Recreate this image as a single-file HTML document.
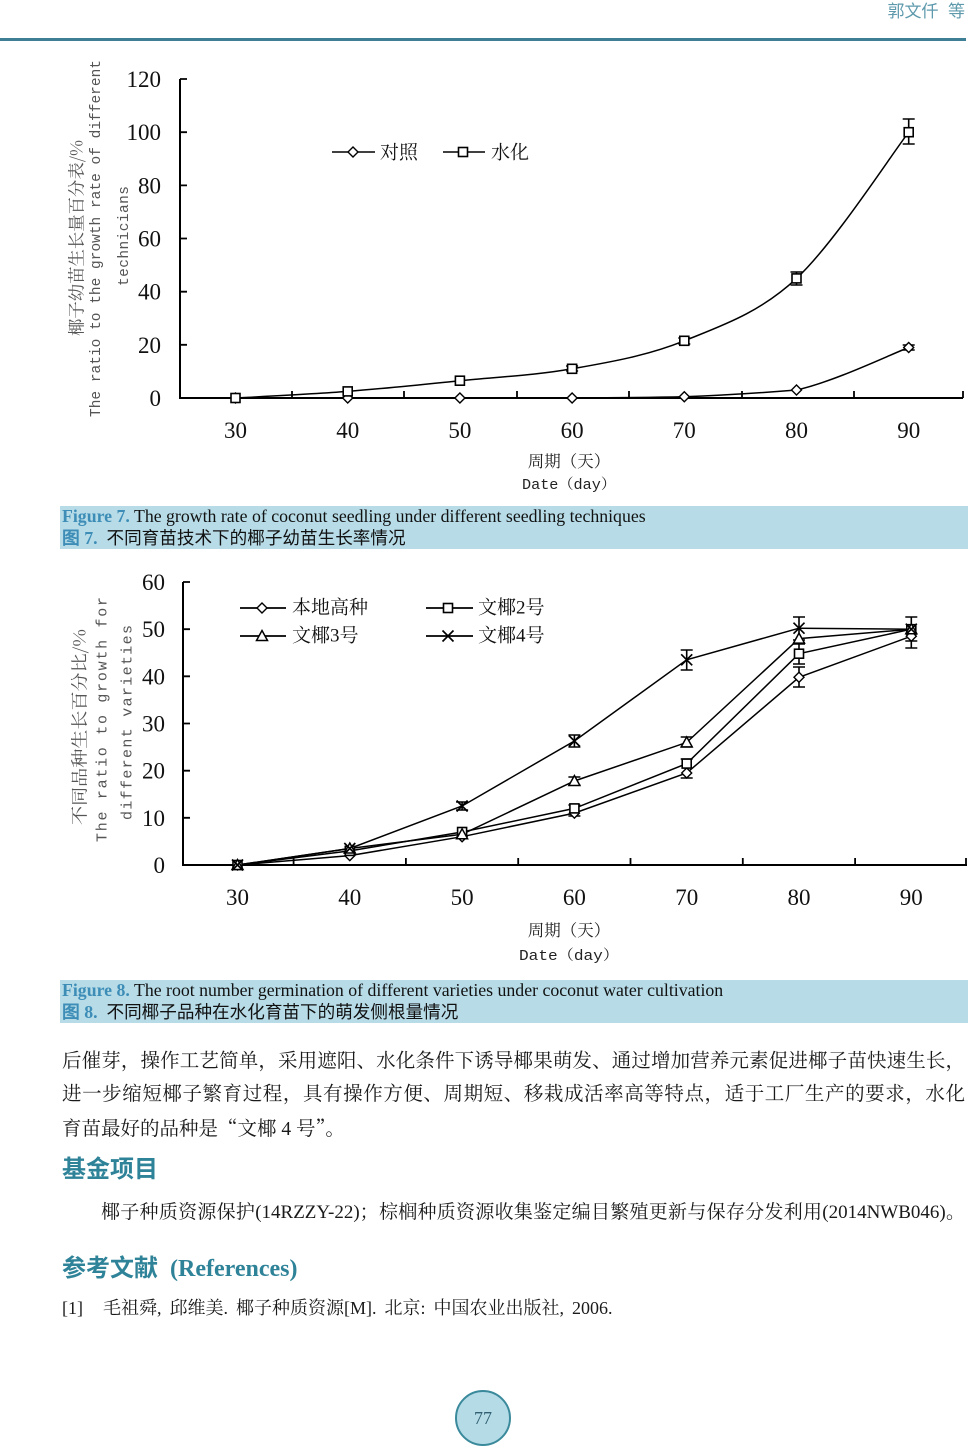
<!DOCTYPE html>
<html><head><meta charset="utf-8">
<style>
html,body{margin:0;padding:0;background:#fff;}
body{width:968px;height:1448px;position:relative;overflow:hidden;}
.abs{position:absolute;white-space:nowrap;}
.hdr{right:3px;top:2px;font:17px/20px "Liberation Sans","Noto Sans CJK SC",sans-serif;color:#5e9aac;}
.hline{position:absolute;left:0;top:38px;width:966px;height:3px;background:#3f7f95;}
.cap{position:absolute;left:60px;width:908px;height:43px;background:#b7dce8;}
.cap .l1{position:absolute;left:2px;top:0px;font:17.8px/20px "Liberation Serif",serif;color:#111;white-space:nowrap;}
.cap .l2{position:absolute;left:2px;top:21px;font:17.8px/21px "Liberation Serif",serif;color:#111;white-space:nowrap;}
.fl{color:#3d8db7;font-weight:bold;}
.cn{font-family:"Noto Sans CJK SC",sans-serif;font-size:17.6px;}
.bt{position:absolute;left:62px;width:903px;font:19.5px/24px "Liberation Serif","Noto Serif CJK SC",serif;color:#1a1a1a;text-align:justify;text-align-last:justify;white-space:nowrap;}
.h2{position:absolute;left:62px;font:bold 24px/30px "Liberation Serif","Noto Sans CJK SC",sans-serif;color:#2f8398;white-space:nowrap;}
.pn{position:absolute;left:455px;top:1390px;width:52px;height:52px;border-radius:50%;background:#b5dbe7;border:2px solid #3b8a9c;text-align:center;font:18px/52px "Liberation Serif",serif;color:#2f5f70;}
.q{font-family:"Noto Serif CJK SC",serif;}
</style></head>
<body>
<div class="abs hdr">郭文仟&nbsp;&nbsp;等</div>
<div class="hline"></div>

<svg class="abs" style="left:0;top:0" width="968" height="980" viewBox="0 0 968 980" xmlns="http://www.w3.org/2000/svg">
<defs>
<path id="dm" d="M0,-5 L5,0 L0,5 L-5,0Z" fill="#fff" stroke="#000" stroke-width="1.4"/>
<rect id="sq" x="-4.5" y="-4.5" width="9" height="9" fill="#fff" stroke="#000" stroke-width="1.6"/>
<path id="tr" d="M0,-5.5 L5.5,4.5 L-5.5,4.5Z" fill="#fff" stroke="#000" stroke-width="1.5"/>
<path id="xm" d="M-5.5,-5.5 L5.5,5.5 M-5.5,5.5 L5.5,-5.5" fill="none" stroke="#000" stroke-width="1.7"/>
</defs>

<!-- ===== Figure 7 ===== -->
<path d="M180,79 V398 H963" stroke="#000" stroke-width="2" fill="none"/>
<path d="M180,344.8H187M180,291.7H187M180,238.5H187M180,185.4H187M180,132.2H187M180,79H187" stroke="#000" stroke-width="1.8"/>
<path d="M292,398V391M404,398V391M517,398V391M629,398V391M742,398V391M854,398V391M963,398V391" stroke="#000" stroke-width="1.8"/>
<g font-family="Liberation Serif, serif" font-size="23" fill="#111" text-anchor="end">
<text x="161" y="87">120</text><text x="161" y="140.2">100</text><text x="161" y="193.4">80</text>
<text x="161" y="246.5">60</text><text x="161" y="299.7">40</text><text x="161" y="352.8">20</text><text x="161" y="406">0</text>
</g>
<g font-family="Liberation Serif, serif" font-size="23" fill="#111" text-anchor="middle">
<text x="235.5" y="438">30</text><text x="347.7" y="438">40</text><text x="459.9" y="438">50</text>
<text x="572.1" y="438">60</text><text x="684.3" y="438">70</text><text x="796.5" y="438">80</text><text x="908.7" y="438">90</text>
</g>
<text x="569" y="467" text-anchor="middle" font-family="Noto Serif CJK SC, serif" font-size="16.5" fill="#222">周期（天）</text>
<text x="569" y="489" text-anchor="middle" font-family="Liberation Mono, Noto Serif CJK SC, monospace" font-size="14.5" fill="#222" textLength="94" lengthAdjust="spacingAndGlyphs">Date（day）</text>
<g fill="#555" text-anchor="middle" dominant-baseline="central">
<text transform="translate(75,238) rotate(-90)" font-family="Noto Serif CJK SC, serif" font-size="17" textLength="196" lengthAdjust="spacingAndGlyphs">椰子幼苗生长量百分表/%</text>
<text transform="translate(97,238.5) rotate(-90)" font-family="Liberation Mono, monospace" font-size="14.5" textLength="357" lengthAdjust="spacing">The ratio to the growth rate of different</text>
<text transform="translate(125,236) rotate(-90)" font-family="Liberation Mono, monospace" font-size="14.5" textLength="100" lengthAdjust="spacing">technicians</text>
</g>
<!-- series -->
<path d="M235.5,398 C254.2,396.9 310.3,394.3 347.7,391.4 C385.1,388.5 422.5,384.5 459.9,380.7 C497.3,376.9 534.7,375.5 572.1,368.8 C609.5,362.2 646.9,355.9 684.3,340.8 C721.7,325.7 759.1,313.2 796.5,278.4 C833.9,243.6 890,156.6 908.7,132.2" fill="none" stroke="#000" stroke-width="1.5"/>
<path d="M235.5,398 L572.1,398 C609.5,397.8 646.9,397.5 684.3,396.7 C721.7,395.4 759.1,393 796.5,390 C833.9,381.8 890,354.6 908.7,347.5" fill="none" stroke="#000" stroke-width="1.5"/>
<path d="M908.7,119V144M902.7,119H914.7M902.7,144H914.7 M796.5,272V285M790.5,272H802.5M790.5,285H802.5 M684.3,338V344M678.3,338H690.3M678.3,344H690.3 M572.1,366V371M566.1,366H578.1M566.1,371H578.1 M908.7,345V350M902.7,345H914.7M902.7,350H914.7" stroke="#000" stroke-width="1.6" fill="none"/>
<use href="#dm" x="235.5" y="398"/><use href="#dm" x="347.7" y="398"/><use href="#dm" x="459.9" y="398"/><use href="#dm" x="572.1" y="398"/><use href="#dm" x="684.3" y="396.7"/><use href="#dm" x="796.5" y="390"/><use href="#dm" x="908.7" y="347.5"/>
<use href="#sq" x="235.5" y="398"/><use href="#sq" x="347.7" y="391.4"/><use href="#sq" x="459.9" y="380.7"/><use href="#sq" x="572.1" y="368.8"/><use href="#sq" x="684.3" y="340.8"/><use href="#sq" x="796.5" y="278.4"/><use href="#sq" x="908.7" y="132.2"/>
<!-- legend -->
<path d="M332,152H375M443,152H485" stroke="#000" stroke-width="1.6"/>
<use href="#dm" x="353" y="152"/><use href="#sq" x="463" y="152"/>
<g font-family="Noto Serif CJK SC, serif" font-size="19" fill="#111" dominant-baseline="central">
<text x="380" y="151">对照</text><text x="491" y="151">水化</text>
</g>

<!-- ===== Figure 8 ===== -->
<path d="M183,582 V865 H967" stroke="#000" stroke-width="2" fill="none"/>
<path d="M183,817.8H190M183,770.7H190M183,723.5H190M183,676.3H190M183,629.2H190M183,582H190" stroke="#000" stroke-width="1.8"/>
<path d="M293.6,865V858M405.9,865V858M518.2,865V858M630.5,865V858M742.8,865V858M855.1,865V858M966,865V858" stroke="#000" stroke-width="1.8"/>
<g font-family="Liberation Serif, serif" font-size="23" fill="#111" text-anchor="end">
<text x="165" y="590">60</text><text x="165" y="637.2">50</text><text x="165" y="684.3">40</text><text x="165" y="731.5">30</text>
<text x="165" y="778.7">20</text><text x="165" y="825.8">10</text><text x="165" y="873">0</text>
</g>
<g font-family="Liberation Serif, serif" font-size="23" fill="#111" text-anchor="middle">
<text x="237.5" y="905">30</text><text x="349.8" y="905">40</text><text x="462.1" y="905">50</text>
<text x="574.4" y="905">60</text><text x="686.7" y="905">70</text><text x="799" y="905">80</text><text x="911.3" y="905">90</text>
</g>
<text x="569" y="936" text-anchor="middle" font-family="Noto Serif CJK SC, serif" font-size="16.5" fill="#222">周期（天）</text>
<text x="569" y="960" text-anchor="middle" font-family="Liberation Mono, Noto Serif CJK SC, monospace" font-size="14.5" fill="#222" textLength="100" lengthAdjust="spacingAndGlyphs">Date（day）</text>
<g fill="#555" text-anchor="middle" dominant-baseline="central">
<text transform="translate(78,727) rotate(-90)" font-family="Noto Serif CJK SC, serif" font-size="17" textLength="196" lengthAdjust="spacingAndGlyphs">不同品种生长百分比/%</text>
<text transform="translate(103,719.5) rotate(-90)" font-family="Liberation Mono, monospace" font-size="15" textLength="245" lengthAdjust="spacing">The ratio to growth for</text>
<text transform="translate(128,722.5) rotate(-90)" font-family="Liberation Mono, monospace" font-size="15" textLength="195" lengthAdjust="spacing">different varieties</text>
</g>
<!-- series lines -->
<g fill="none" stroke="#000" stroke-width="1.5">
<polyline points="237.5,865 349.8,855.6 462.1,836.7 574.4,813.1 686.7,773 799,677.3 911.3,636.2"/>
<polyline points="237.5,865 349.8,850.9 462.1,832 574.4,808.4 686.7,763.6 799,653.7 911.3,629.2"/>
<polyline points="237.5,865 349.8,848.5 462.1,834.3 574.4,781 686.7,742.4 799,638.6 911.3,629.2"/>
<polyline points="237.5,865 349.8,848.5 462.1,806 574.4,741 686.7,659.8 799,628.2 911.3,629.2"/>
</g>
<path d="M911.3,617V641M905.3,617H917.3M905.3,641H917.3 M911.3,625V648M905.3,648H917.3
M799,617V640M793,617H805M793,640H805 M799,634V643M793,643H805 M799,644V664M793,644H805M793,664H805 M799,667V687M793,667H805M793,687H805
M686.7,650V670M680.7,650H692.7M680.7,670H692.7 M686.7,737V747M680.7,737H692.7M680.7,747H692.7 M686.7,759V778M680.7,759H692.7M680.7,778H692.7
M574.4,735V747M568.4,735H580.4M568.4,747H580.4 M574.4,777V785M568.4,777H580.4M568.4,785H580.4 M574.4,805V816M568.4,805H580.4M568.4,816H580.4
M462.1,802V810M456.1,802H468.1M456.1,810H468.1" stroke="#000" stroke-width="1.6" fill="none"/>
<use href="#dm" x="237.5" y="865"/><use href="#dm" x="349.8" y="855.6"/><use href="#dm" x="462.1" y="836.7"/><use href="#dm" x="574.4" y="813.1"/><use href="#dm" x="686.7" y="773"/><use href="#dm" x="799" y="677.3"/><use href="#dm" x="911.3" y="636.2"/>
<use href="#sq" x="237.5" y="865"/><use href="#sq" x="349.8" y="850.9"/><use href="#sq" x="462.1" y="832"/><use href="#sq" x="574.4" y="808.4"/><use href="#sq" x="686.7" y="763.6"/><use href="#sq" x="799" y="653.7"/><use href="#sq" x="911.3" y="629.2"/>
<use href="#tr" x="237.5" y="865"/><use href="#tr" x="349.8" y="848.5"/><use href="#tr" x="462.1" y="834.3"/><use href="#tr" x="574.4" y="781"/><use href="#tr" x="686.7" y="742.4"/><use href="#tr" x="799" y="638.6"/><use href="#tr" x="911.3" y="629.2"/>
<use href="#xm" x="237.5" y="865"/><use href="#xm" x="349.8" y="848.5"/><use href="#xm" x="462.1" y="806"/><use href="#xm" x="574.4" y="741"/><use href="#xm" x="686.7" y="659.8"/><use href="#xm" x="799" y="628.2"/><use href="#xm" x="911.3" y="629.2"/>
<!-- legend -->
<path d="M240,608H286M426,608H473M240,636H286M426,636H473" stroke="#000" stroke-width="1.8"/>
<use href="#dm" x="262" y="608"/><use href="#sq" x="448" y="608"/><use href="#tr" x="262" y="636"/><use href="#xm" x="448" y="636"/>
<g font-family="Liberation Serif, Noto Serif CJK SC, serif" font-size="19" fill="#111" dominant-baseline="central">
<text x="292" y="608">本地高种</text><text x="478" y="608">文椰2号</text>
<text x="292" y="636">文椰3号</text><text x="478" y="636">文椰4号</text>
</g>
</svg>

<div class="cap" style="top:506px">
<div class="l1"><span class="fl">Figure 7.</span> The growth rate of coconut seedling under different seedling techniques</div>
<div class="l2"><span class="fl">图 7.</span>&nbsp; <span class="cn">不同育苗技术下的椰子幼苗生长率情况</span></div>
</div>
<div class="cap" style="top:980px">
<div class="l1"><span class="fl">Figure 8.</span> The root number germination of different varieties under coconut water cultivation</div>
<div class="l2"><span class="fl">图 8.</span>&nbsp; <span class="cn">不同椰子品种在水化育苗下的萌发侧根量情况</span></div>
</div>

<div class="bt" style="top:1050px">后催芽，操作工艺简单，采用遮阳、水化条件下诱导椰果萌发、通过增加营养元素促进椰子苗快速生长，</div>
<div class="bt" style="top:1083px">进一步缩短椰子繁育过程，具有操作方便、周期短、移栽成活率高等特点，适于工厂生产的要求，水化</div>
<div class="bt" style="top:1115px;text-align:left;text-align-last:left;">育苗最好的品种是<span class="q">“</span>文椰 4 号<span class="q">”</span>。</div>

<div class="h2" style="top:1155px">基金项目</div>
<div class="bt" style="left:101px;width:864px;top:1201px;font-size:19px;">椰子种质资源保护(14RZZY-22)；棕榈种质资源收集鉴定编目繁殖更新与保存分发利用(2014NWB046)。</div>
<div class="h2" style="top:1254px">参考文献&nbsp;&nbsp;<span style="font-family:'Liberation Serif',serif;">(References)</span></div>
<div class="abs" style="left:62px;top:1296px;font:18px/24px 'Liberation Serif',serif;color:#1a1a1a;">[1]</div>
<div class="abs" style="left:103px;top:1296px;font:18px/24px 'Liberation Serif','Noto Serif CJK SC',serif;color:#1a1a1a;word-spacing:3.5px;">毛祖舜, 邱维美. 椰子种质资源[M]. 北京: 中国农业出版社, 2006.</div>

<div class="pn">77</div>
</body></html>
